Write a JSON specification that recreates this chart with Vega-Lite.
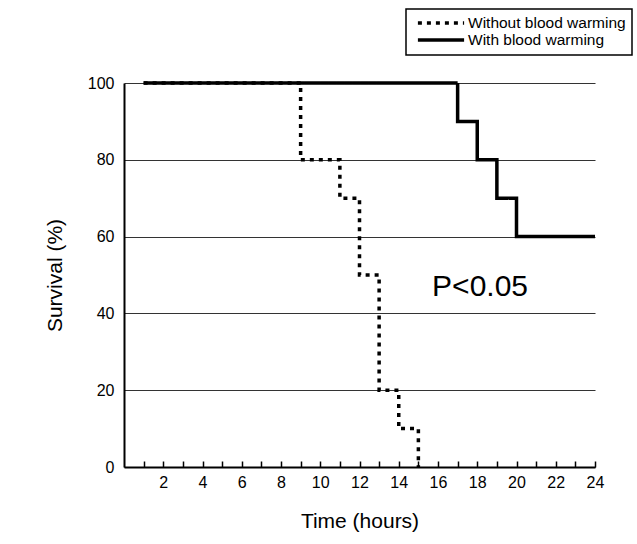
{
  "$schema": "https://vega.github.io/schema/vega-lite/v6.json",
  "autosize": "none",
  "width": 471,
  "height": 384,
  "padding": {"left": 124, "top": 83, "right": 42, "bottom": 77},
  "background": "white",
  "config": {
    "font": "Liberation Sans",
    "view": {"stroke": null},
    "axis": {"domainColor": "black", "domainWidth": 2, "labelColor": "black", "titleColor": "black", "labelFont": "Liberation Sans", "titleFont": "Liberation Sans", "titleFontWeight": "normal"}
  },
  "resolve": {"axis": {"x": "independent"}},
  "layer": [
    {
      "data": {"values": [
        {"series": "Without blood warming", "time": 1, "survival": 100},
        {"series": "Without blood warming", "time": 9, "survival": 80},
        {"series": "Without blood warming", "time": 11, "survival": 70},
        {"series": "Without blood warming", "time": 12, "survival": 50},
        {"series": "Without blood warming", "time": 13, "survival": 20},
        {"series": "Without blood warming", "time": 14, "survival": 10},
        {"series": "Without blood warming", "time": 15, "survival": 0},
        {"series": "With blood warming", "time": 1, "survival": 100},
        {"series": "With blood warming", "time": 17, "survival": 90},
        {"series": "With blood warming", "time": 18, "survival": 80},
        {"series": "With blood warming", "time": 19, "survival": 70},
        {"series": "With blood warming", "time": 20, "survival": 60},
        {"series": "With blood warming", "time": 24, "survival": 60}
      ]},
      "mark": {"type": "line", "interpolate": "step-after", "color": "black", "strokeWidth": 3.5, "strokeCap": "butt"},
      "encoding": {
        "x": {"field": "time", "type": "quantitative", "scale": {"domain": [0, 24], "nice": false},
          "axis": {"orient": "bottom", "title": "Time (hours)", "titleFontSize": 21, "titlePadding": 20, "values": [2,4,6,8,10,12,14,16,18,20,22,24],
            "labelOverlap": false, "labelFlush": false, "labelFontSize": 16, "tickSize": -6, "tickColor": "black", "tickWidth": 1.5, "labelPadding": 13, "grid": false}},
        "y": {"field": "survival", "type": "quantitative", "scale": {"domain": [0, 100], "nice": false},
          "axis": {"title": "Survival (%)", "titleFontSize": 21, "titlePadding": 22, "values": [0,20,40,60,80,100], "labelFontSize": 16, "ticks": false, "labelPadding": 10, "grid": true, "gridColor": "#333", "gridWidth": 1.2}},
        "strokeDash": {"field": "series", "type": "nominal",
          "scale": {"domain": ["Without blood warming", "With blood warming"], "range": [[4, 5], [1, 0]]},
          "legend": {"title": null, "orient": "none", "legendX": 282, "legendY": -74, "strokeColor": "black", "fillColor": "white", "padding": 6, "symbolType": "M-3.85,0H3.85", "symbolSize": 144, "symbolStrokeWidth": 3.5, "symbolStrokeColor": "black", "symbolFillColor": "transparent", "labelFontSize": 15.5, "labelColor": "black", "rowPadding": -1, "labelOffset": 19, "symbolOffset": 21,
            "encode": {"legend": {"update": {"strokeWidth": {"value": 1.5}}}}}}
      }
    },
    {
      "data": {"values": [{"time": 15.7, "survival": 47, "label": "P<0.05"}]},
      "mark": {"type": "text", "align": "left", "baseline": "middle", "fontSize": 30, "color": "black", "font": "Liberation Sans"},
      "encoding": {
        "x": {"field": "time", "type": "quantitative",
          "axis": {"orient": "bottom", "title": null, "values": [1,3,5,7,9,11,13,15,17,19,21,23], "labels": false, "domain": false, "grid": false, "tickSize": -6, "tickColor": "black", "tickWidth": 1.5}},
        "y": {"field": "survival", "type": "quantitative"},
        "text": {"field": "label"}
      }
    }
  ]
}
